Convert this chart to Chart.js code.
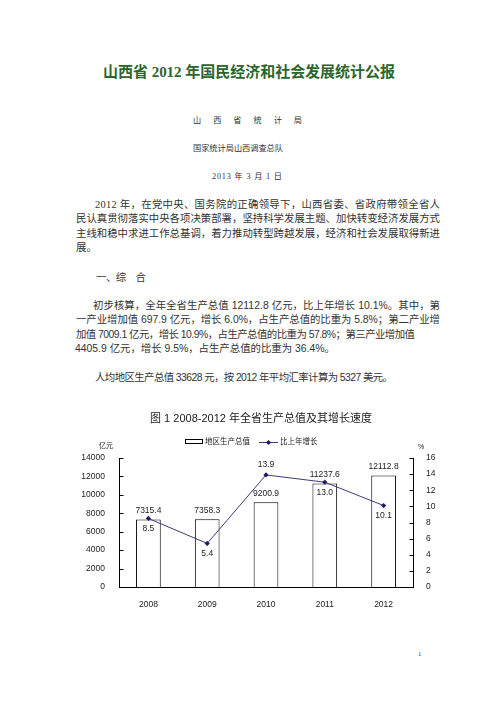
<!DOCTYPE html>
<html>
<head>
<meta charset="utf-8">
<title>山西省2012年国民经济和社会发展统计公报</title>
<script src="https://cdn.jsdelivr.net/npm/chart.js@4.4.1/dist/chart.umd.min.js"></script>
<style>
  html, body { margin: 0; padding: 0; background: #fff; }
  body { width: 496px; height: 702px; position: relative; overflow: hidden; }
  .ln {
    position: absolute; white-space: nowrap; line-height: 1.3;
    transform: translateY(-50%); color: #333;
    font-family: 'Liberation Serif', 'Noto Sans CJK SC', serif;
  }
  .title { font-size: 15px; font-weight: bold; color: #2b662b; }
  .sub { font-size: 8.2px; }
  .body { font-size: 10.4px; }
  .body.num { font-family: 'Liberation Sans', 'Noto Sans CJK SC', sans-serif; }
  .pg { font-size: 7px; }
  #box { position: absolute; left: 80px; top: 400px; width: 370px; height: 210px; }
</style>
</head>
<body>
<div id="page"></div>
<div id="box"><canvas id="chart"></canvas></div>
<script>
// chart data
const years = ['2008', '2009', '2010', '2011', '2012'];
const gdpValues = [7315.4, 7358.3, 9200.9, 11237.6, 12112.8];
const growthValues = [8.5, 5.4, 13.9, 13.0, 10.1];
const gdpTicks = [0, 2000, 4000, 6000, 8000, 10000, 12000, 14000];
const growthTicks = [0, 2, 4, 6, 8, 10, 12, 14, 16];
const seriesNames = ['地区生产总值', '比上年增长'];
const chartTitle = '图 1 2008-2012 年全省生产总值及其增长速度';

// 1 = label under the point, -1 = above
const growthLabelSide = [1, 1, -1, 1, 1];

const pageLines = [
  { text: '山西省 2012 年国民经济和社会发展统计公报', x: 103, y: 73, w: 292, cls: 'title' },
  { text: '山西省统计局', x: 193, y: 121, w: 109, cls: 'sub' },
  { text: '国家统计局山西调查总队', x: 193, y: 149, w: 90, cls: 'sub' },
  { text: '2013 年 3 月 1 日', x: 212, y: 177, w: 70, cls: 'sub' },
  { text: '2012 年，在党中央、国务院的正确领导下，山西省委、省政府带领全省人', x: 95, y: 205, w: 345, cls: 'body' },
  { text: '民认真贯彻落实中央各项决策部署，坚持科学发展主题、加快转变经济发展方式', x: 76, y: 219.3, w: 364, cls: 'body' },
  { text: '主线和稳中求进工作总基调，着力推动转型跨越发展，经济和社会发展取得新进', x: 76, y: 233.6, w: 364, cls: 'body' },
  { text: '展。', x: 76, y: 248, cls: 'body' },
  { text: '一、综　合', x: 96, y: 278, w: 50, cls: 'body' },
  { text: '初步核算，全年全省生产总值 12112.8 亿元，比上年增长 10.1%。其中，第', x: 93, y: 306, w: 347, cls: 'body num' },
  { text: '一产业增加值 697.9 亿元，增长 6.0%，占生产总值的比重为 5.8%；第二产业增', x: 76, y: 320.3, w: 364, cls: 'body num' },
  { text: '加值 7009.1 亿元，增长 10.9%，占生产总值的比重为 57.8%；第三产业增加值', x: 76, y: 334.6, w: 339, cls: 'body num' },
  { text: '4405.9 亿元，增长 9.5%，占生产总值的比重为 36.4%。', x: 75, y: 349, cls: 'body num' },
  { text: '人均地区生产总值 33628 元，按 2012 年平均汇率计算为 5327 美元。', x: 95, y: 378, w: 298, cls: 'body num' },
  { text: '1', x: 418, y: 655, cls: 'pg' }
];

function buildPage() {
  const page = document.getElementById('page');
  pageLines.forEach(l => {
    const el = document.createElement('div');
    el.className = 'ln ' + l.cls;
    el.textContent = l.text;
    el.style.left = l.x + 'px';
    el.style.top = l.y + 'px';
    page.appendChild(el);
    if (l.w) {
      const n = [...l.text].length;
      const natural = el.getBoundingClientRect().width;
      el.style.letterSpacing = ((l.w - natural) / (n - 1)) + 'px';
    }
  });
}

const chartFont = "'Liberation Sans', 'Noto Sans CJK SC', sans-serif";
const textColor = '#222';
const lineColor = '#3b3b7c';
const pointColor = '#1b1b66';

const decorPlugin = {
  id: 'decor',
  afterDatasetsDraw(chart) {
    const ctx = chart.ctx;
    ctx.save();
    // inward tick marks
    ctx.strokeStyle = '#000';
    ctx.lineWidth = 1;
    [['y', 1, gdpTicks], ['y1', -1, growthTicks]].forEach(([id, dir, ticks]) => {
      const s = chart.scales[id];
      const x0 = Math.round(dir > 0 ? s.right : s.left) + 0.5;
      ticks.forEach(v => {
        const py = Math.round(s.getPixelForValue(v)) + 0.5;
        ctx.beginPath();
        ctx.moveTo(x0, py);
        ctx.lineTo(x0 + dir * 4, py);
        ctx.stroke();
      });
    });

    // value labels
    ctx.fillStyle = textColor;
    ctx.font = '8.5px ' + chartFont;
    ctx.textAlign = 'center';
    ctx.textBaseline = 'middle';
    chart.getDatasetMeta(1).data.forEach((bar, i) => {
      ctx.fillText(gdpValues[i].toFixed(1), bar.x, bar.y - 9);
    });
    chart.getDatasetMeta(0).data.forEach((pt, i) => {
      ctx.fillText(growthValues[i].toFixed(1), pt.x, pt.y + growthLabelSide[i] * 10);
    });
    ctx.restore();
  },
  afterDraw(chart) {
    const ctx = chart.ctx;
    const area = chart.chartArea;
    ctx.save();
    ctx.fillStyle = textColor;
    ctx.textBaseline = 'middle';

    // title
    ctx.font = '11px ' + chartFont;
    ctx.textAlign = 'center';
    ctx.fillText(chartTitle, (area.left + area.right) / 2 - 5, 19);

    // legend
    const ly = 42;
    let lx = area.left + 66;
    ctx.strokeStyle = '#000';
    ctx.lineWidth = 1;
    ctx.strokeRect(lx + 0.5, ly - 2.5, 17, 4);
    ctx.font = '7.5px ' + chartFont;
    ctx.textAlign = 'left';
    ctx.fillText(seriesNames[0], lx + 20, ly);
    lx += 74;
    ctx.strokeStyle = lineColor;
    ctx.beginPath();
    ctx.moveTo(lx, ly + 0.5);
    ctx.lineTo(lx + 19, ly + 0.5);
    ctx.stroke();
    ctx.fillStyle = pointColor;
    ctx.beginPath();
    ctx.moveTo(lx + 9.5, ly - 2);
    ctx.lineTo(lx + 12, ly + 0.5);
    ctx.lineTo(lx + 9.5, ly + 3);
    ctx.lineTo(lx + 7, ly + 0.5);
    ctx.closePath();
    ctx.fill();
    ctx.fillStyle = textColor;
    ctx.fillText(seriesNames[1], lx + 21, ly);

    // axis units
    ctx.font = '7px ' + chartFont;
    ctx.textAlign = 'center';
    ctx.fillText('亿元', area.left - 13, 46);
    ctx.fillText('%', area.right + 8, 47);
    ctx.restore();
  }
};

function setupChart() {
  new Chart(document.getElementById('chart'), {
    type: 'bar',
    data: {
      labels: years,
      datasets: [{
        type: 'line',
        label: seriesNames[1],
        data: growthValues,
        yAxisID: 'y1',
        order: 1,
        borderColor: lineColor,
        borderWidth: 1,
        pointStyle: 'rectRot',
        pointRadius: 2.6,
        pointBackgroundColor: pointColor,
        pointBorderColor: pointColor,
        pointBorderWidth: 0,
        tension: 0
      }, {
        type: 'bar',
        label: seriesNames[0],
        data: gdpValues,
        yAxisID: 'y',
        order: 2,
        backgroundColor: '#fff',
        borderColor: '#000',
        borderWidth: 1,
        barPercentage: 0.42,
        categoryPercentage: 1
      }]
    },
    options: {
      responsive: true,
      maintainAspectRatio: false,
      animation: false,
      layout: { padding: { top: 58, left: 0, right: 0, bottom: 0 } },
      plugins: {
        legend: { display: false },
        title: { display: false },
        tooltip: { enabled: false }
      },
      scales: {
        x: {
          grid: { display: false },
          border: { display: true, color: '#000', width: 1 },
          ticks: { color: textColor, font: { family: chartFont, size: 8.5 }, padding: 5 },
          afterFit: s => { s.height = 23; }
        },
        y: {
          position: 'left',
          min: 0,
          max: 14000,
          grid: { display: false },
          border: { display: true, color: '#000', width: 1 },
          afterBuildTicks: s => { s.ticks = gdpTicks.map(v => ({ value: v })); },
          ticks: {
            color: textColor, font: { family: chartFont, size: 8.5 }, padding: 6,
            callback: v => String(v)
          },
          afterFit: s => { s.width = 39; }
        },
        y1: {
          position: 'right',
          min: 0,
          max: 16,
          grid: { display: false },
          border: { display: true, color: '#000', width: 1 },
          afterBuildTicks: s => { s.ticks = growthTicks.map(v => ({ value: v })); },
          ticks: {
            color: textColor, font: { family: chartFont, size: 8.5 }, padding: 5,
            callback: v => String(v)
          },
          afterFit: s => { s.width = 37; }
        }
      }
    },
    plugins: [decorPlugin]
  });
}

document.fonts.ready.then(() => {
  buildPage();
  setupChart();
});
</script>
</body>
</html>
